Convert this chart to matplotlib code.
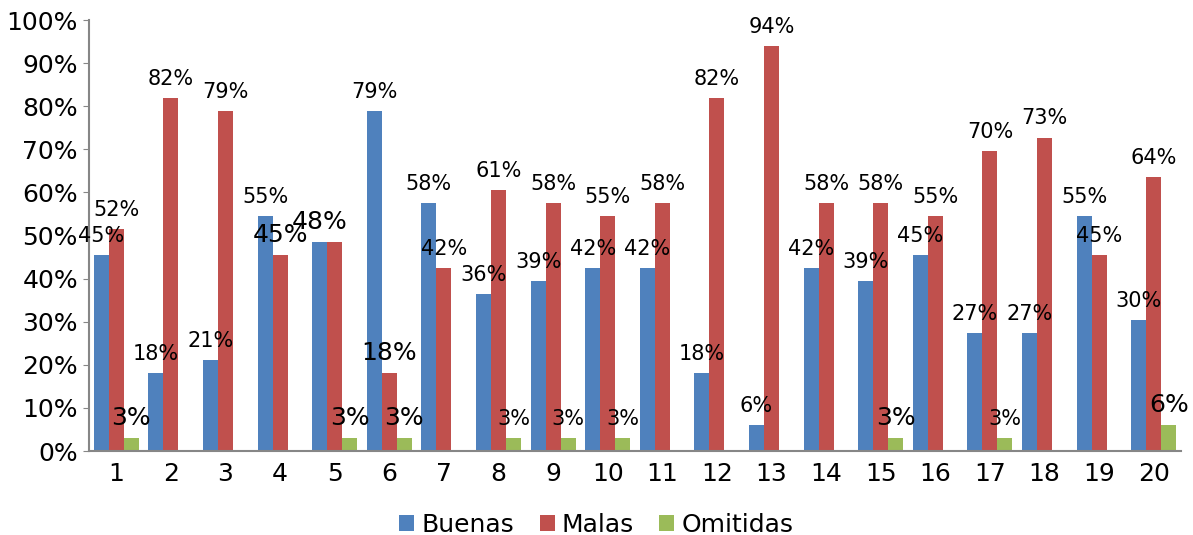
import numpy as np
import matplotlib.pyplot as plt
from matplotlib.ticker import PercentFormatter

# answers per question, out of 33
total = 33
questions = [str(i) for i in range(1, 21)]
buenas = [15, 6, 7, 18, 16, 26, 19, 12, 13, 14, 14, 6, 2, 14, 13, 15, 9, 9, 18, 10]
malas = [17, 27, 26, 15, 16, 6, 14, 20, 19, 18, 19, 27, 31, 19, 19, 18, 23, 24, 15, 21]
omitidas = [1, 0, 0, 0, 1, 1, 0, 1, 1, 1, 0, 0, 0, 0, 1, 0, 1, 0, 0, 2]

series = ["Buenas", "Malas", "Omitidas"]
colors = ["#4F81BD", "#C0504D", "#9BBB59"]

# labels drawn bigger in the original, and the one that is hidden
big_labels = {(2, 0), (2, 4), (2, 5), (2, 14), (2, 19), (1, 3), (1, 5), (0, 4)}
hidden_labels = {(1, 4)}

fig = plt.figure(figsize=(11.93, 5.35), dpi=100)
ax = fig.add_axes([0.0746, 0.157, 0.9154, 0.8056])

x = np.arange(len(questions))
width = 0.275
for s, (name, counts, color) in enumerate(zip(series, [buenas, malas, omitidas], colors)):
    pct = np.array(counts) / total * 100
    pos = x + (s - 1) * width
    ax.bar(pos, pct, width=width, color=color, label=name)
    for i, (px, v) in enumerate(zip(pos, pct)):
        if v == 0 or (s, i) in hidden_labels:
            continue
        size = 18 if (s, i) in big_labels else 15
        ax.annotate(f"{v:.0f}%", (px, v), xytext=(0, 9.4), textcoords="offset points",
                    ha="center", va="baseline", fontsize=size, color="black")

ax.set_xlim(-0.5, len(questions) - 0.5)
ax.set_ylim(0, 100)
ax.set_yticks(np.arange(0, 101, 10))
ax.yaxis.set_major_formatter(PercentFormatter(decimals=0))
ax.set_xticks(x)
ax.set_xticklabels(questions)
ax.tick_params(axis="both", labelsize=18, colors="#868686", labelcolor="black", length=4)
ax.tick_params(axis="x", length=0, pad=8)
ax.tick_params(axis="y", pad=4)

for side in ["top", "right"]:
    ax.spines[side].set_visible(False)
for side in ["left", "bottom"]:
    ax.spines[side].set_color("#868686")
    ax.spines[side].set_linewidth(1.5)

fig.legend(loc="lower center", ncol=3, frameon=False, fontsize=18,
           handlelength=0.6, handleheight=0.6, handletextpad=0.3,
           columnspacing=1.0, bbox_to_anchor=(0.5, -0.045))

fig.savefig("out.png", dpi=100)
